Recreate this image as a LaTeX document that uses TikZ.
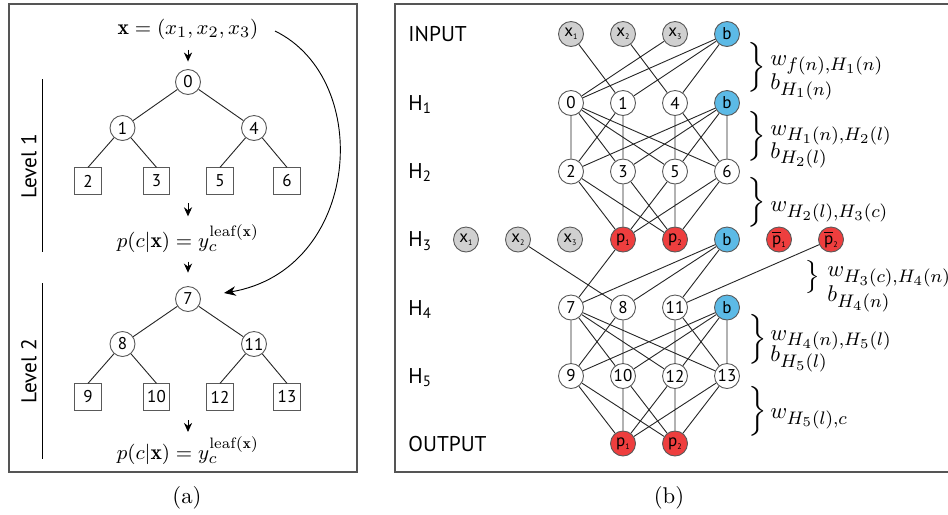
\documentclass[tikz,border=0pt]{standalone}
\usepackage{amsmath}
\usepackage{amssymb}
\usepackage{graphicx}
\usepackage{fontspec}
\setsansfont{PT Sans}
\usepackage{tikz}
\usetikzlibrary{arrows.meta}
\DeclareMathSizes{9.6}{9.6}{8}{6}
\definecolor{inGray}{RGB}{208,208,208}
\definecolor{biasBlue}{RGB}{92,186,230}
\definecolor{probRed}{RGB}{238,62,62}
\definecolor{frameGray}{RGB}{85,85,85}
\newcommand{\nsub}[1]{\raisebox{-0.4ex}{\fontsize{3.5}{4}\selectfont #1}}
\newcommand{\pbar}{$\overline{\mbox{p}}$}
\newcommand{\wbrace}[1]{\scalebox{1.27}{$#1\}$}}
\newcommand{\labX}{408}
\newcommand{\wX}{770}
\tikzstyle{net}=[x=0.44pt, y=-0.44pt]
\tikzstyle{unit}=[circle, inner sep=0pt, minimum size=11pt, draw=black!65, fill=white, font=\fontsize{7.5}{8}\sffamily]
\tikzstyle{inp}=[unit, fill=inGray]
\tikzstyle{bias}=[unit, fill=biasBlue]
\tikzstyle{prob}=[unit, fill=probRed]
\tikzstyle{leaf}=[rectangle, inner sep=0pt, minimum size=11.6pt, draw=black!65, fill=white, font=\fontsize{7.5}{8}\sffamily]
\tikzstyle{layer}=[anchor=base west, inner sep=0pt, font=\fontsize{9.4}{11}\sffamily]
\tikzstyle{lvl}=[rotate=90, inner sep=0pt, font=\fontsize{9.4}{11}\sffamily]
\tikzstyle{eq}=[inner sep=1pt, font=\fontsize{9.5}{11}\selectfont]
\tikzstyle{brc}=[inner sep=0pt, font=\fontsize{9.6}{11}\selectfont]
\tikzstyle{wlab}=[anchor=base west, inner sep=0pt, font=\fontsize{9.6}{11}\selectfont]
\tikzstyle{sublabel}=[inner sep=0pt, font=\fontsize{10}{12}\selectfont]
\tikzstyle{wire}=[-, thin, draw=black!85]
\tikzstyle{flow}=[-{Stealth[length=4pt, width=3.6pt]}, thin]
\tikzstyle{panel}=[draw=frameGray, line width=0.6pt]

\begin{document}
\begin{tikzpicture}[net]
	\useasboundingbox (0,0) rectangle (948,514);
	\draw[panel] (9,4) rectangle (357,472);
	\draw[panel] (948,4) -- (395,4) -- (395,472) -- (948,472);
	\node[sublabel] (capA) at (187,498) {(a)};
	\node[sublabel] (capB) at (669,498) {(b)};
	
	%Left: the two levels of trees
	\draw (188,29) node[eq] (xvec) {$\mathbf{x}=(x_1,x_2,x_3)$};
	\draw (188,82) node[unit] (t0) {0};
	\draw (122.5,128) node[unit] (t1) {1};
	\draw (254,128) node[unit] (t4) {4};
	\draw (88,181) node[leaf] (t2) {2};
	\draw (156.5,181) node[leaf] (t3) {3};
	\draw (220,181) node[leaf] (t5) {5};
	\draw (287,181) node[leaf] (t6) {6};
	\coordinate (endA) at (188,203);
	\draw (188,239) node[eq] (pA) {$p(c|\mathbf{x})=y_c^{\mathrm{leaf}(\mathbf{x})}$};
	\draw (188,299) node[unit] (t7) {7};
	\draw (122.5,344) node[unit] (t8) {8};
	\draw (254,344) node[unit] (t11) {11};
	\draw (88,397) node[leaf] (t9) {9};
	\draw (156.5,397) node[leaf] (t10) {10};
	\draw (220,397) node[leaf] (t12) {12};
	\draw (287,397) node[leaf] (t13) {13};
	\coordinate (endB) at (188,420);
	\draw (188,451) node[eq] (pB) {$p(c|\mathbf{x})=y_c^{\mathrm{leaf}(\mathbf{x})}$};
	\coordinate (arcS) at (275,31);
	\coordinate (arcE) at (224,293);
	
	\draw[wire] (t0) -- (t1) (t0) -- (t4);
	\draw[wire] (t1) -- (t2.north) (t1) -- (t3.north) (t4) -- (t5.north) (t4) -- (t6.north);
	\draw[wire] (t7) -- (t8) (t7) -- (t11);
	\draw[wire] (t8) -- (t9.north) (t8) -- (t10.north) (t11) -- (t12.north) (t11) -- (t13.north);
	\draw[flow, shorten <=3.5pt, shorten >=3.3pt] (xvec) -- (t0);
	\draw[flow, shorten >=2.6pt] (endA) -- (pA);
	\draw[flow, shorten <=2.6pt, shorten >=5.9pt] (pA) -- (t7);
	\draw[flow, shorten >=1pt] (endB) -- (pB);
	\draw[-{Stealth[length=5.2pt, width=4.2pt]}, thin] (arcS) .. controls (375,80) and (360,270) .. (arcE);
	
	\draw (42,79) -- (42,252);
	\draw (42,283) -- (42,459);
	\node[lvl] (lv1) at (29,166) {Level 1};
	\node[lvl] (lv2) at (29,371) {Level 2};
	
	%Right: the network
	\node[layer] (lIn) at (\labX,41.7) {INPUT};
	\node[layer] (lA) at (\labX,110) {H\textsubscript{1}};
	\node[layer] (lB) at (\labX,178.3) {H\textsubscript{2}};
	\node[layer] (lC) at (\labX,246.7) {H\textsubscript{3}};
	\node[layer] (lD) at (\labX,315) {H\textsubscript{4}};
	\node[layer] (lE) at (\labX,383.5) {H\textsubscript{5}};
	\node[layer] (lOut) at (\labX,451.7) {OUTPUT};
	
	\draw (571,34) node[inp] (a1) {x\nsub{1}};
	\draw (623,34) node[inp] (a2) {x\nsub{2}};
	\draw (675,34) node[inp] (a3) {x\nsub{3}};
	\draw (727,34) node[bias] (b0) {b};
	\draw (571,103) node[unit] (n0) {0};
	\draw (623,103) node[unit] (n1) {1};
	\draw (675,103) node[unit] (n4) {4};
	\draw (727,103) node[bias] (b1) {b};
	\draw (571,171.5) node[unit] (n2) {2};
	\draw (623,171.5) node[unit] (n3) {3};
	\draw (675,171.5) node[unit] (n5) {5};
	\draw (727,171.5) node[unit] (n6) {6};
	\draw (466,239.5) node[inp] (c1) {x\nsub{1}};
	\draw (518,239.5) node[inp] (c2) {x\nsub{2}};
	\draw (570,239.5) node[inp] (c3) {x\nsub{3}};
	\draw (623,239.5) node[prob] (p1) {p\nsub{1}};
	\draw (675,239.5) node[prob] (p2) {p\nsub{2}};
	\draw (727,239.5) node[bias] (b3) {b};
	\draw (779,239.5) node[prob] (q1) {\pbar\nsub{1}};
	\draw (831,239.5) node[prob] (q2) {\pbar\nsub{2}};
	\draw (571,307.5) node[unit] (n7) {7};
	\draw (623,307.5) node[unit] (n8) {8};
	\draw (675,307.5) node[unit] (n11) {11};
	\draw (727,307.5) node[bias] (b4) {b};
	\draw (571,376) node[unit] (n9) {9};
	\draw (623,376) node[unit] (n10) {10};
	\draw (675,376) node[unit] (n12) {12};
	\draw (727,376) node[unit] (n13) {13};
	\draw (623,443.5) node[prob] (o1) {p\nsub{1}};
	\draw (675,443.5) node[prob] (o2) {p\nsub{2}};
	
	\draw[wire] (a1) -- (n1) (a2) -- (n4) (a3) -- (n0);
	\draw[wire] (b0) -- (n0) (b0) -- (n1) (b0) -- (n4);
	\draw[wire] (n0) -- (n2) (n0) -- (n3) (n0) -- (n5) (n0) -- (n6);
	\draw[wire] (n1) -- (n2) (n1) -- (n3) (n4) -- (n5) (n4) -- (n6);
	\draw[wire] (b1) -- (n2) (b1) -- (n3) (b1) -- (n5) (b1) -- (n6);
	\draw[wire] (n2) -- (p1) (n2) -- (p2) (n3) -- (p1) (n3) -- (p2);
	\draw[wire] (n5) -- (p1) (n5) -- (p2) (n6) -- (p1) (n6) -- (p2);
	\draw[wire] (p1) -- (n7) (c2) -- (n8) (q2) -- (n11);
	\draw[wire] (b3) -- (n7) (b3) -- (n8) (b3) -- (n11);
	\draw[wire] (n7) -- (n9) (n7) -- (n10) (n7) -- (n12) (n7) -- (n13);
	\draw[wire] (n8) -- (n9) (n8) -- (n10) (n11) -- (n12) (n11) -- (n13);
	\draw[wire] (b4) -- (n9) (b4) -- (n10) (b4) -- (n12) (b4) -- (n13);
	\draw[wire] (n9) -- (o1) (n9) -- (o2) (n10) -- (o1) (n10) -- (o2);
	\draw[wire] (n12) -- (o1) (n12) -- (o2) (n13) -- (o1) (n13) -- (o2);
	
	%The weight and bias braces
	\node[brc] (br1) at (757,67.5) {\wbrace{\Big}};
	\node[wlab] (w1) at (\wX,65) {$w_{f(n),H_1(n)}$};
	\node[wlab] (v1) at (\wX,89.5) {$b_{H_1(n)}$};
	\node[brc] (br2) at (757,136) {\wbrace{\Big}};
	\node[wlab] (w2) at (\wX,135) {$w_{H_1(n),H_2(l)}$};
	\node[wlab] (v2) at (\wX,158) {$b_{H_2(l)}$};
	\node[brc] (br3) at (757,202.5) {\wbrace{\Big}};
	\node[wlab] (w3) at (\wX,211.7) {$w_{H_2(l),H_3(c)}$};
	\node[brc] (br4) at (813,277.5) {\wbrace{\big}};
	\node[wlab] (w4) at (827,276.7) {$w_{H_3(c),H_4(n)}$};
	\node[wlab] (v4) at (827,301.7) {$b_{H_4(n)}$};
	\node[brc] (br5) at (758,339) {\wbrace{\Big}};
	\node[wlab] (w5) at (\wX,340) {$w_{H_4(n),H_5(l)}$};
	\node[wlab] (v5) at (\wX,361.7) {$b_{H_5(l)}$};
	\node[brc] (br6) at (758,411) {\wbrace{\Big}};
	\node[wlab] (w6) at (\wX,418.3) {$w_{H_5(l),c}$};
\end{tikzpicture}
\end{document}
